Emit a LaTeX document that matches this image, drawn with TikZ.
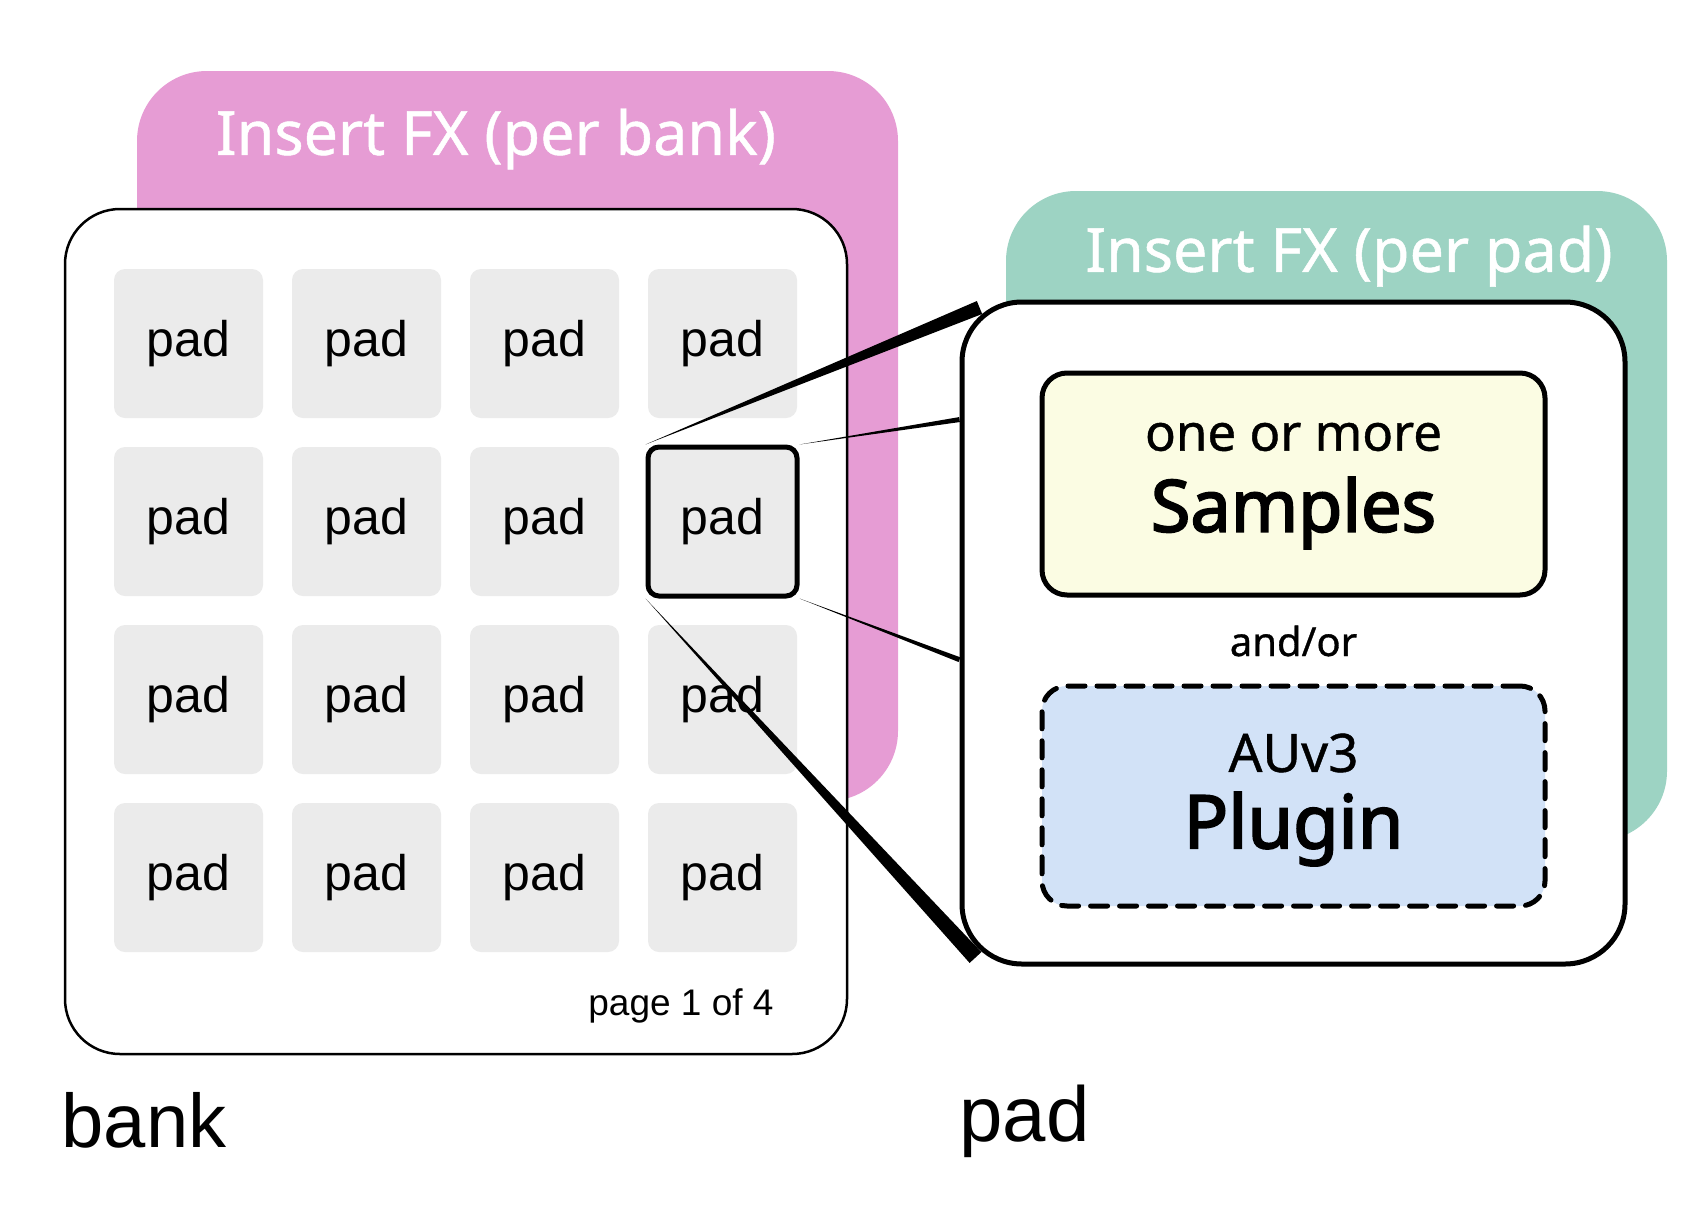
\documentclass[tikz,border=0pt]{standalone}
\usepackage{fontspec}
\setmainfont{Liberation Sans}
\newfontfamily\notofont[FakeBold=0.8]{Noto Sans}
\newfontfamily\notobold[FakeBold=2.6]{Noto Sans}
\usetikzlibrary{calc}

\definecolor{padgray}{RGB}{235,235,235}
\definecolor{bankpink}{RGB}{230,156,212}
\definecolor{padgreen}{RGB}{157,211,195}
\definecolor{sampleyellow}{RGB}{251,252,227}
\definecolor{pluginblue}{RGB}{210,226,247}

\tikzset{
  padcell/.style={fill=padgray, rounded corners=11pt, minimum width=149pt, minimum height=149pt, inner sep=0pt, font=\fontsize{50}{60}\selectfont},
  fxback/.style={rounded corners=70pt, inner sep=0pt},
  fxtitle/.style={text=white, font=\notofont\fontsize{61}{70}\selectfont},
  bigtext/.style={font=\fontsize{76}{80}\selectfont}
}

\begin{document}
\begin{tikzpicture}[x=1pt, y=-1pt]
\useasboundingbox (0,0) rectangle (1708,1205);

% Insert FX backgrounds
\node[fxback, fill=bankpink, minimum width=761pt, minimum height=730pt] (fx-bank) at (517.5, 436) {};
\node[fxtitle] (fx-bank-title) at (496, 139) {Insert FX (per bank)};
\node[fxback, fill=padgreen, minimum width=661pt, minimum height=650pt] (fx-pad) at (1336.5, 516) {};
\node[fxtitle] (fx-pad-title) at (1349, 256) {Insert FX (per pad)};

% Bank
\node[draw, line width=2.5pt, fill=white, rounded corners=55pt, minimum width=782pt, minimum height=845pt] (bank-box) at (456, 631.5) {};
\node[padcell] (pad-1-1) at (188.5, 343.5) {pad};
\node[padcell] (pad-1-2) at (366.5, 343.5) {pad};
\node[padcell] (pad-1-3) at (544.5, 343.5) {pad};
\node[padcell] (pad-1-4) at (722.5, 343.5) {pad};
\node[padcell] (pad-2-1) at (188.5, 521.5) {pad};
\node[padcell] (pad-2-2) at (366.5, 521.5) {pad};
\node[padcell] (pad-2-3) at (544.5, 521.5) {pad};
\node[padcell, draw, line width=5pt] (pad-2-4) at (722.5, 521.5) {pad};
\node[padcell] (pad-3-1) at (188.5, 699.5) {pad};
\node[padcell] (pad-3-2) at (366.5, 699.5) {pad};
\node[padcell] (pad-3-3) at (544.5, 699.5) {pad};
\node[padcell] (pad-3-4) at (722.5, 699.5) {pad};
\node[padcell] (pad-4-1) at (188.5, 877.5) {pad};
\node[padcell] (pad-4-2) at (366.5, 877.5) {pad};
\node[padcell] (pad-4-3) at (544.5, 877.5) {pad};
\node[padcell] (pad-4-4) at (722.5, 877.5) {pad};
\node[font=\fontsize{37}{40}\selectfont] (page-label) at (681, 1006) {page 1 of 4};
\node[bigtext, anchor=west] (bank-label) at (58, 1120) {bank};

% Pad detail
\node[draw, line width=5pt, fill=white, rounded corners=60pt, minimum width=663pt, minimum height=662pt] (pad-box) at (1293.5, 633) {};
\node[draw, line width=5pt, fill=sampleyellow, rounded corners=25pt, minimum width=503pt, minimum height=222pt] (samples) at (1293.5, 484) {};
\node[font=\notofont\fontsize{51}{55}\selectfont] (samples-top) at (1293.5, 437) {one or more};
\node[font=\notobold\fontsize{72}{80}\selectfont] (samples-text) at (1293.5, 513) {Samples};
\node[font=\notofont\fontsize{40}{45}\selectfont] (and-or) at (1293.5, 641) {and/or};
\node[draw, line width=5pt, dash pattern=on 17pt off 12pt, line cap=round, fill=pluginblue, rounded corners=25pt, minimum width=503pt, minimum height=220pt] (plugin) at (1293.5, 796) {};
\node[font=\notofont\fontsize{53}{55}\selectfont] (plugin-top) at (1293.5, 753) {AUv3};
\node[font=\notobold\fontsize{74}{80}\selectfont] (plugin-text) at (1293.5, 829) {Plugin};
\node[bigtext, anchor=west, font=\fontsize{78}{80}\selectfont] (pad-label) at (956, 1121) {pad};

% Zoom wedges
\coordinate (zoom-a) at ($(pad-box.north west)+(20,8)$);
\coordinate (zoom-b) at ($(pad-box.north west)!0.18!(pad-box.south west)$);
\coordinate (zoom-c) at ($(pad-box.north west)!0.54!(pad-box.south west)$);
\coordinate (zoom-d) at ($(pad-box.south west)+(16,-9)$);
\fill (pad-2-4.north west) -- ($(zoom-a)!7pt!90:(pad-2-4.north west)$) -- ($(zoom-a)!7pt!-90:(pad-2-4.north west)$) -- cycle;
\fill (pad-2-4.north east) -- ($(zoom-b)!2.5pt!90:(pad-2-4.north east)$) -- ($(zoom-b)!2.5pt!-90:(pad-2-4.north east)$) -- cycle;
\fill (pad-2-4.south east) -- ($(zoom-c)!2.5pt!90:(pad-2-4.south east)$) -- ($(zoom-c)!2.5pt!-90:(pad-2-4.south east)$) -- cycle;
\fill (pad-2-4.south west) -- ($(zoom-d)!8pt!90:(pad-2-4.south west)$) -- ($(zoom-d)!8pt!-90:(pad-2-4.south west)$) -- cycle;
\end{tikzpicture}
\end{document}
